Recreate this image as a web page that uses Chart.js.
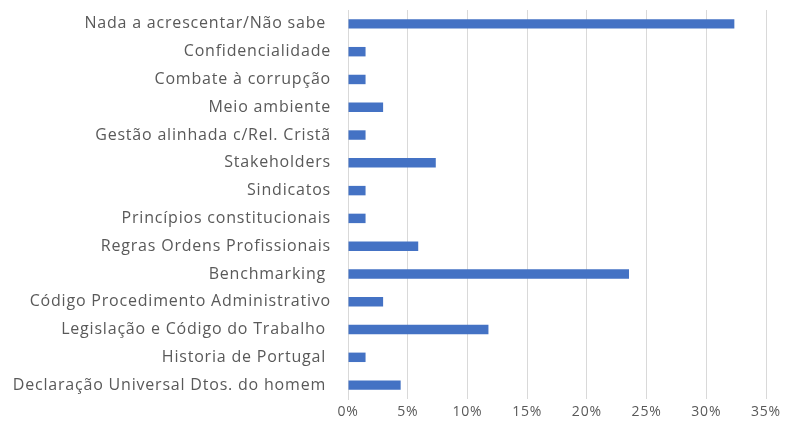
<!DOCTYPE html>
<html>
<head>
<meta charset="utf-8">
<script src="https://cdn.jsdelivr.net/npm/chart.js@4"></script>
<style>
  html, body { margin: 0; padding: 0; background: #fff; }
  #wrap { width: 785px; height: 430px; }
</style>
</head>
<body>
<div id="wrap"><canvas id="chart" width="785" height="430"></canvas></div>
<script>
// Categories as shown top to bottom (some originals carry a trailing space)
const categories = [
    'Nada a acrescentar/Não sabe ',
    'Confidencialidade',
    'Combate à corrupção',
    'Meio ambiente',
    'Gestão alinhada c/Rel. Cristã',
    'Stakeholders',
    'Sindicatos',
    'Princípios constitucionais',
    'Regras Ordens Profissionais',
    'Benchmarking ',
    'Código Procedimento Administrativo',
    'Legislação e Código do Trabalho ',
    'Historia de Portugal ',
    'Declaração Universal Dtos. do homem '
];

// Share of answers (%)
const shares = [32.35, 1.47, 1.47, 2.94, 1.47, 7.35, 1.47, 1.47, 5.88, 23.53, 2.94, 11.76, 1.47, 4.41];

const xTicks = [0, 5, 10, 15, 20, 25, 30, 35];

const labelColor = '#595959';
const gridColor = '#d9d9d9';
const barColor = '#4472c4';

// the original text is set rather loosely, widen the letters a bit
const looseText = {
    id: 'looseText',
    beforeDraw: (chart) => { chart.ctx.letterSpacing = '0.8px'; }
};

new Chart(document.getElementById('chart'), {
    type: 'bar',
    data: {
        labels: categories,
        datasets: [{
            data: shares,
            backgroundColor: barColor,
            borderWidth: 0,
            categoryPercentage: 1,
            barPercentage: 0.34
        }]
    },
    plugins: [looseText],
    options: {
        indexAxis: 'y',
        responsive: false,
        animation: false,
        layout: { padding: { left: 0, right: 19, top: 10, bottom: 0 } },
        plugins: {
            legend: { display: false },
            tooltip: { enabled: false }
        },
        scales: {
            x: {
                min: 0,
                max: 35,
                afterBuildTicks: (scale) => {
                    scale.ticks = xTicks.map(v => ({ value: v }));
                },
                afterFit: (scale) => { scale.height = 31; },
                ticks: {
                    color: labelColor,
                    font: { family: 'Open Sans', size: 14 },
                    padding: 5,
                    callback: (v) => v + '%'
                },
                grid: { color: gridColor, lineWidth: 1, drawTicks: false },
                border: { display: false }
            },
            y: {
                afterFit: (scale) => {
                    scale.width = 348;
                    scale.paddingTop = 0;
                    scale.paddingBottom = 0;
                },
                ticks: {
                    color: labelColor,
                    font: { family: 'Open Sans', size: 16 },
                    padding: 17,
                    autoSkip: false
                },
                grid: { display: false, drawTicks: false },
                border: { display: true, color: gridColor }
            }
        }
    }
});
</script>
</body>
</html>
